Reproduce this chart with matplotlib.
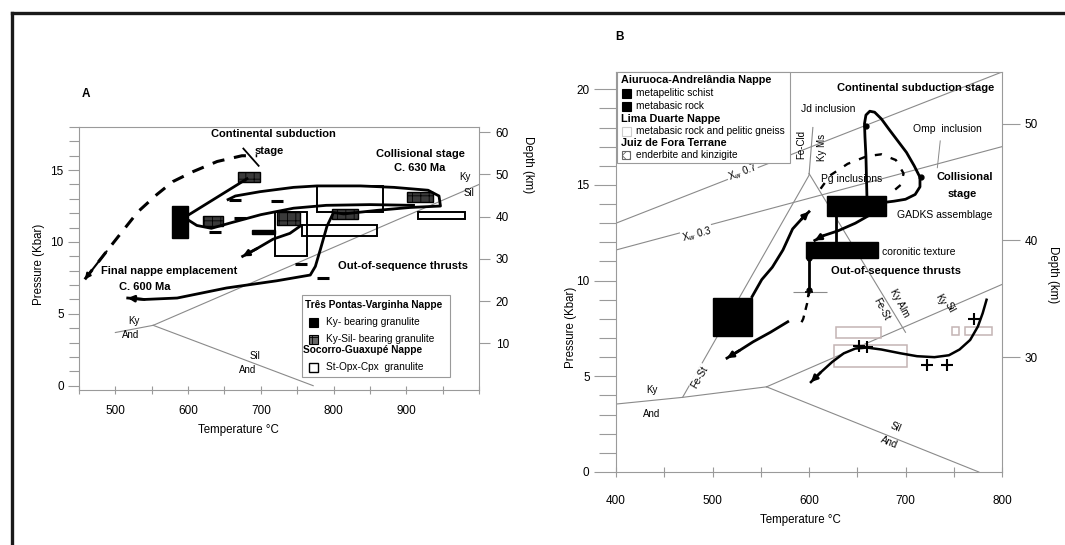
import matplotlib
matplotlib.use("Agg")
import matplotlib.pyplot as plt
from matplotlib.patches import Rectangle
from matplotlib.lines import Line2D

plt.rcParams['font.family'] = ['Liberation Sans', 'DejaVu Sans']
plt.rcParams['hatch.linewidth'] = 0.6

W, H = 1065, 545

# ---------------- Panel A data (T in °C, P in kbar) ----------------
a_ky_and_T, a_ky_and_P = [500, 552], [3.7, 4.2]
a_ky_sil_T, a_ky_sil_P = [552, 1000], [4.2, 14.0]
a_sil_and_T, a_sil_and_P = [552, 772], [4.2, 0.0]

a_subduction_T = [458, 488, 509, 531, 557, 579, 607, 640, 674, 695]
a_subduction_P = [7.4, 9.35, 10.7, 12.1, 13.3, 14.2, 14.9, 15.6, 16.0, 16.0]

a_prograde_T = [598, 681]
a_prograde_P = [11.8, 14.4]

a_loop_T = [655, 665, 699, 745, 777, 837, 883, 930, 945, 947, 905, 860, 814, 800,
            791, 782, 775, 768, 722, 653, 585, 540, 517]
a_loop_P = [12.95, 13.2, 13.5, 13.8, 13.9, 13.9, 13.8, 13.6, 13.2, 12.5, 12.4, 12.2,
            11.95, 12.05, 11.1, 9.5, 8.3, 7.7, 7.3, 6.8, 6.1, 6.0, 6.1]

a_mid_T = [598, 612, 632, 660, 700, 745, 790, 850, 910]
a_mid_P = [11.6, 11.15, 10.95, 11.35, 11.9, 12.35, 12.55, 12.6, 12.55]

a_retro_T = [754, 740, 717, 695, 675]
a_retro_P = [11.1, 10.6, 10.2, 9.55, 9.0]

a_tick_marks_T = [665, 722, 671, 755, 785, 637]
a_tick_marks_P = [12.9, 12.85, 11.7, 8.5, 7.5, 10.7]

# boxes: (Tmin, Tmax, Pmin, Pmax)
a_ky_boxes = [(578, 600, 10.3, 12.5), (688, 720, 10.55, 10.85)]
a_kysil_boxes = [(669, 699, 14.2, 14.9), (620, 648, 11.1, 11.8), (722, 754, 11.2, 12.1),
                 (798, 834, 11.6, 12.3), (901, 937, 12.8, 13.5)]
a_st_boxes = [(777, 868, 12.1, 13.9), (719, 763, 9.0, 12.1), (757, 860, 10.4, 11.2),
              (916, 981, 11.6, 12.1)]

a_depth_km = [10, 20, 30, 40, 50, 60]
a_kbar_per_km = 0.294

# ---------------- Panel B data ----------------
b_ky_and_T, b_ky_and_P = [400, 469, 556], [3.55, 3.9, 4.45]
b_sil_and_T, b_sil_and_P = [556, 776], [4.45, 0.0]
b_ky_sil_T, b_ky_sil_P = [556, 800], [4.45, 9.8]
b_fest_T, b_fest_P = [469, 600, 604], [3.9, 15.5, 18.0]
b_stbrk_T, b_stbrk_P = [600, 700], [15.6, 7.3]
b_xw07_T, b_xw07_P = [400, 800], [13.0, 20.9]
b_xw03_T, b_xw03_P = [400, 800], [11.6, 17.0]

b_prograde_T = [541, 551, 562, 573, 583, 592, 600]
b_prograde_P = [9.16, 10.05, 10.7, 11.6, 12.7, 13.2, 13.6]

b_loop_T = [660, 659.5, 659, 658, 657.5, 659, 663, 668, 675, 683, 692, 701, 709, 715,
            715, 710, 700, 688, 680]
b_loop_P = [14.45, 15.5, 16.5, 17.5, 18.2, 18.65, 18.85, 18.8, 18.45, 17.9, 17.3, 16.7,
            16.0, 15.4, 14.9, 14.5, 14.25, 14.15, 14.1]

b_inner_T = [612, 622, 640, 660, 675, 690, 698, 695, 688]
b_inner_P = [14.8, 15.5, 16.1, 16.5, 16.6, 16.3, 15.6, 15.0, 14.7]

b_link_T, b_link_P = [628, 628], [13.4, 12.0]
b_decomp_T = [662, 648, 630, 615, 606]
b_decomp_P = [13.4, 13.0, 12.6, 12.35, 12.1]
b_exhum_T, b_exhum_P = [600, 600], [11.2, 9.5]
b_exhum_dash_T, b_exhum_dash_P = [600, 598, 594, 590], [9.5, 8.8, 8.0, 7.6]
b_exhum2_T = [578, 560, 542, 528, 515]
b_exhum2_P = [7.85, 7.3, 6.8, 6.35, 5.95]

b_right_T = [784, 780, 775, 767, 756, 745, 730, 712, 695, 675, 660, 648, 636, 624, 612, 602]
b_right_P = [9.0, 8.3, 7.6, 6.9, 6.4, 6.1, 6.0, 6.05, 6.2, 6.4, 6.5, 6.45, 6.2, 5.75, 5.2, 4.7]
b_cross_T = [771, 743, 722, 652, 660]
b_cross_P = [8.0, 5.6, 5.6, 6.6, 6.55]

b_black_boxes = [(500, 541, 7.1, 9.1), (619, 680, 13.4, 14.4), (597, 671, 11.2, 12.0)]
b_pale_boxes = [(628, 675, 7.0, 7.6), (626, 702, 5.5, 6.65), (748, 755, 7.15, 7.6),
                (762, 790, 7.15, 7.6)]

b_depth_km = [30, 40, 50]
b_depth_P = [6.0, 12.1, 18.2]

GRAY = '#8a8a8a'
SPINE = '#9a9a9a'
TICK_FS = 8.5
WHITE_BG = dict(facecolor='white', edgecolor='none', pad=0.6)

fig = plt.figure(figsize=(W / 100, H / 100), dpi=100)


def px_axes(x0, y0, x1, y1):
    return fig.add_axes([x0 / W, 1 - y1 / H, (x1 - x0) / W, (y1 - y0) / H])


def ftext(x, y, s, **kw):
    fig.text(x / W, 1 - y / H, s, **kw)


def add_box(ax, b, **kw):
    T0, T1, P0, P1 = b
    ax.add_patch(Rectangle((T0, P0), T1 - T0, P1 - P0, **kw))


def arrow_end(ax, T, P, lw=1.9):
    ax.annotate('', xy=(T[-1], P[-1]), xytext=(T[-2], P[-2]),
                arrowprops=dict(arrowstyle='-|>', color='k', lw=lw,
                                mutation_scale=9, shrinkA=0, shrinkB=0))


def style_axes(ax):
    for s in ax.spines.values():
        s.set_color(SPINE)
        s.set_linewidth(0.8)


# frame around the figure
fig.add_artist(Line2D([12 / W, 1.0], [1 - 13 / H, 1 - 13 / H], color='#1a1a1a', lw=2.4))
fig.add_artist(Line2D([12 / W, 12 / W], [0, 1 - 13 / H], color='#1a1a1a', lw=2.4))

# ====================== Panel A ======================
axA = px_axes(79, 127, 479, 390)
axA.set_xlim(450, 1000)
axA.set_ylim(-0.3, 18)
style_axes(axA)
axA.set_xticks([500, 600, 700, 800, 900])
axA.set_xticks(range(450, 1001, 50), minor=True)
axA.set_yticks([0, 5, 10, 15])
axA.set_yticks(range(0, 19), minor=True)
axA.tick_params(axis='x', which='both', direction='inout', length=6, color=SPINE,
                width=0.8, labelsize=TICK_FS, pad=8)
axA.tick_params(axis='y', which='major', direction='out', length=8, color=SPINE,
                width=0.8, labelsize=TICK_FS, pad=3)
axA.tick_params(axis='y', which='minor', direction='out', length=7, color=SPINE, width=0.8)

axA.plot(a_ky_and_T, a_ky_and_P, color=GRAY, lw=0.8)
axA.plot(a_ky_sil_T, a_ky_sil_P, color=GRAY, lw=0.8)
axA.plot(a_sil_and_T, a_sil_and_P, color=GRAY, lw=0.8)

for b in a_st_boxes:
    add_box(axA, b, facecolor='none', edgecolor='k', lw=1.4, zorder=3)
for b in a_ky_boxes:
    add_box(axA, b, facecolor='k', edgecolor='k', lw=1.0, zorder=4)
for b in a_kysil_boxes:
    add_box(axA, b, facecolor='#3a3a3a', edgecolor='k', hatch='++', lw=1.0, zorder=4)

axA.plot(a_subduction_T, a_subduction_P, color='k', lw=2.2, dashes=(4, 3.2), zorder=5)
axA.annotate('', xy=(a_subduction_T[0], a_subduction_P[0]),
             xytext=(a_subduction_T[1], a_subduction_P[1]),
             arrowprops=dict(arrowstyle='-|>', color='k', lw=1.5, mutation_scale=8,
                             shrinkA=0, shrinkB=0))

axA.plot(a_prograde_T, a_prograde_P, color='k', lw=2.0, zorder=5)
axA.plot(a_loop_T, a_loop_P, color='k', lw=2.0, zorder=5)
arrow_end(axA, a_loop_T, a_loop_P)
axA.plot(a_mid_T, a_mid_P, color='k', lw=2.0, zorder=5)
axA.plot(a_retro_T, a_retro_P, color='k', lw=2.0, zorder=5)
arrow_end(axA, a_retro_T, a_retro_P)
axA.plot(a_tick_marks_T, a_tick_marks_P, ls='none', marker='_', ms=8, mew=2.2,
         color='k', zorder=6)
axA.plot([697, 676], [15.3, 16.5], color='k', lw=1.3, zorder=5)

bold = dict(fontsize=8, fontweight='bold', ha='center', va='center')
axA.text(717, 17.5, 'Continental subduction', **bold)
axA.text(712, 16.35, 'stage', **bold)
axA.text(919, 16.1, 'Collisional stage', **bold)
axA.text(919, 15.15, 'C. 630 Ma', **bold)
axA.text(574, 8.0, 'Final nappe emplacement', **bold)
axA.text(541, 6.85, 'C. 600 Ma', **bold)
axA.text(895, 8.3, 'Out-of-sequence thrusts', **bold)
small = dict(fontsize=7, ha='center', va='center')
axA.text(981, 14.5, 'Ky', **small)
axA.text(986, 13.4, 'Sil', **small)
axA.text(526, 4.5, 'Ky', **small)
axA.text(521, 3.5, 'And', **small)
axA.text(692, 2.05, 'Sil', **small)
axA.text(682, 1.1, 'And', **small)

# depth scale (right)
axA2 = axA.twinx()
axA2.set_ylim(axA.get_ylim())
axA2.set_yticks([d * a_kbar_per_km for d in a_depth_km])
axA2.set_yticklabels([str(d) for d in a_depth_km])
axA2.tick_params(axis='y', direction='out', length=8, color=SPINE, width=0.8,
                 labelsize=TICK_FS, pad=4)
for s in axA2.spines.values():
    s.set_visible(False)

# legend A
fig.add_artist(Rectangle((302 / W, 1 - 377 / H), 148 / W, 82 / H, facecolor='white',
                         edgecolor=SPINE, lw=0.8, zorder=7))
leg_bold = dict(fontsize=7.3, fontweight='bold', ha='left', va='center', zorder=8)
leg_txt = dict(fontsize=7.3, ha='left', va='center', zorder=8)
ftext(305, 305, 'Três Pontas-Varginha Nappe', **leg_bold)
fig.add_artist(Rectangle((309 / W, 1 - 327 / H), 9 / W, 9 / H, facecolor='k',
                         edgecolor='k', lw=0.8, zorder=8))
ftext(326, 322, 'Ky- bearing granulite', **leg_txt)
fig.add_artist(Rectangle((309 / W, 1 - 344 / H), 9 / W, 9 / H, facecolor='#666',
                         edgecolor='k', hatch='++', lw=0.8, zorder=8))
ftext(326, 339, 'Ky-Sil- bearing granulite', **leg_txt)
ftext(303, 350, 'Socorro-Guaxupé Nappe', **leg_bold)
fig.add_artist(Rectangle((309 / W, 1 - 372 / H), 9 / W, 9 / H, facecolor='white',
                         edgecolor='k', lw=1.0, zorder=8))
ftext(326, 367, 'St-Opx-Cpx  granulite', **leg_txt)

ftext(86, 94, 'A', fontsize=8.5, fontweight='bold', ha='center', va='center')
ftext(238, 430, 'Temperature °C', fontsize=8.3, ha='center', va='center')
ftext(39, 264, 'Pressure (Kbar)', fontsize=8.3, rotation=90, ha='center', va='center')
ftext(528, 165, 'Depth (km)', fontsize=8.3, rotation=270, ha='center', va='center')

# ====================== Panel B ======================
axB = px_axes(616, 72, 1002, 472)
axB.set_xlim(400, 800)
axB.set_ylim(0, 20.9)
style_axes(axB)
axB.set_xticks([400, 500, 600, 700, 800])
axB.set_xticks(range(400, 801, 50), minor=True)
axB.set_yticks([0, 5, 10, 15, 20])
axB.set_yticks(range(0, 21), minor=True)
axB.tick_params(axis='x', which='both', direction='inout', length=7, color=SPINE,
                width=0.8, labelsize=TICK_FS, pad=13)
axB.tick_params(axis='y', which='major', direction='out', length=16, color=SPINE,
                width=0.8, labelsize=TICK_FS, pad=3)
axB.tick_params(axis='y', which='minor', direction='out', length=12, color=SPINE, width=0.8)

for T, P in [(b_ky_and_T, b_ky_and_P), (b_sil_and_T, b_sil_and_P), (b_ky_sil_T, b_ky_sil_P),
             (b_fest_T, b_fest_P), (b_stbrk_T, b_stbrk_P), (b_xw07_T, b_xw07_P),
             (b_xw03_T, b_xw03_P)]:
    axB.plot(T, P, color=GRAY, lw=0.8, zorder=1)

for b in b_pale_boxes:
    add_box(axB, b, facecolor='none', edgecolor='#c4b4b4', lw=1.1, zorder=2)
for b in b_black_boxes:
    add_box(axB, b, facecolor='k', edgecolor='k', lw=1.0, zorder=4)

axB.plot(b_prograde_T, b_prograde_P, color='k', lw=2.0, zorder=5)
arrow_end(axB, b_prograde_T, b_prograde_P)
axB.plot(b_loop_T, b_loop_P, color='k', lw=2.0, zorder=5)
axB.plot([716, 659], [15.4, 18.1], ls='none', marker='o', ms=3.5, color='k', zorder=6)
axB.plot(b_inner_T, b_inner_P, color='k', lw=1.7, dashes=(3, 4), zorder=5)
axB.plot(b_link_T, b_link_P, color='k', lw=2.0, zorder=5)
axB.plot(b_decomp_T, b_decomp_P, color='k', lw=2.0, zorder=5)
arrow_end(axB, b_decomp_T, b_decomp_P)
axB.plot(b_exhum_T, b_exhum_P, color='k', lw=2.0, marker='o', ms=3.5, zorder=5)
axB.plot(b_exhum_dash_T, b_exhum_dash_P, color='k', lw=1.7, dashes=(3, 2.5), zorder=5)
axB.errorbar([600], [9.4], xerr=[[17], [19]], fmt='+', color='k', ms=6, mew=1.2,
             elinewidth=0.8, ecolor=GRAY, zorder=6)
axB.plot(b_exhum2_T, b_exhum2_P, color='k', lw=2.0, zorder=5)
arrow_end(axB, b_exhum2_T, b_exhum2_P)
axB.plot(b_right_T, b_right_P, color='k', lw=1.8, zorder=5)
arrow_end(axB, b_right_T, b_right_P)
axB.plot(b_cross_T, b_cross_P, ls='none', marker='+', ms=8, mew=1.5, color='k', zorder=6)

bb = dict(fontsize=8, fontweight='bold', ha='center', va='center', zorder=7)
bn = dict(fontsize=7.5, ha='center', va='center', zorder=7)
axB.text(711, 20.05, 'Continental subduction stage', **bb)
axB.text(620, 18.95, 'Jd inclusion', **bn)
axB.text(743, 17.9, 'Omp  inclusion', **bn)
axB.plot([736, 733], [17.3, 15.9], color=GRAY, lw=0.7)
axB.text(644, 15.3, 'Pg inclusions', **bn)
axB.text(761, 15.4, 'Collisional', **bb)
axB.text(759, 14.5, 'stage', **bb)
axB.text(741, 13.45, 'GADKS assemblage', **bn)
axB.text(714, 11.5, 'coronitic texture', **bn)
axB.text(690, 10.5, 'Out-of-sequence thrusts', **bb)

sm = dict(fontsize=7, ha='center', va='center', zorder=7)
axB.text(437, 4.3, 'Ky', **sm)
axB.text(437, 3.05, 'And', **sm)
axB.text(690, 2.35, 'Sil', rotation=-22, **sm)
axB.text(683, 1.55, 'And', rotation=-22, **sm)
axB.text(487, 4.97, 'Fe-St', rotation=60, bbox=WHITE_BG, **sm)
axB.text(531, 15.65, 'X$_w$ 0.7', rotation=21, bbox=WHITE_BG, **sm)
axB.text(484, 12.4, 'X$_w$ 0.3', rotation=15, bbox=WHITE_BG, **sm)
axB.text(592, 17.1, 'Fe-Cld', rotation=90, **sm)
axB.text(613, 16.95, 'Ky Ms', rotation=90, **sm)
axB.text(675, 8.5, 'Fe-St', rotation=-62, **sm)
axB.text(694, 8.85, 'Ky Alm', rotation=-62, **sm)
axB.text(736, 9.0, 'Ky', rotation=-62, **sm)
axB.text(746, 8.6, 'Sil', rotation=-62, **sm)

# depth scale (right)
axB2 = axB.twinx()
axB2.set_ylim(axB.get_ylim())
axB2.set_yticks(b_depth_P)
axB2.set_yticklabels([str(d) for d in b_depth_km])
axB2.tick_params(axis='y', direction='out', length=13, color=SPINE, width=0.8,
                 labelsize=TICK_FS, pad=3)
for s in axB2.spines.values():
    s.set_visible(False)

# legend B
fig.add_artist(Rectangle((617 / W, 1 - 163 / H), 173 / W, 91 / H, facecolor='white',
                         edgecolor=SPINE, lw=0.8, zorder=7))
lb = dict(fontsize=7.8, fontweight='bold', ha='left', va='center', zorder=8)
lt = dict(fontsize=7.3, ha='left', va='center', zorder=8)
ftext(621, 80, 'Aiuruoca-Andrelândia Nappe', **lb)
fig.add_artist(Rectangle((622 / W, 1 - 98 / H), 9 / W, 9 / H, facecolor='k', edgecolor='k',
                         lw=0.8, zorder=8))
ftext(636, 93, 'metapelitic schist', **lt)
fig.add_artist(Rectangle((622 / W, 1 - 111 / H), 9 / W, 9 / H, facecolor='k', edgecolor='k',
                         lw=0.8, zorder=8))
ftext(636, 106, 'metabasic rock', **lt)
ftext(621, 119, 'Lima Duarte Nappe', **lb)
fig.add_artist(Rectangle((622 / W, 1 - 136 / H), 9 / W, 9 / H, facecolor='white',
                         edgecolor='#ccc', lw=0.8, zorder=8))
ftext(636, 131, 'metabasic rock and pelitic gneiss', **lt)
ftext(621, 143, 'Juiz de Fora Terrane', **lb)
fig.add_artist(Rectangle((622 / W, 1 - 159 / H), 8 / W, 8 / H, facecolor='white',
                         edgecolor='#666', hatch='xxx', lw=0.8, zorder=8))
ftext(636, 155, 'enderbite and kinzigite', **lt)

ftext(619, 37, 'B', fontsize=8.5, fontweight='bold', ha='center', va='center')
ftext(800, 520, 'Temperature °C', fontsize=8.3, ha='center', va='center')
ftext(571, 327, 'Pressure (Kbar)', fontsize=8.3, rotation=90, ha='center', va='center')
ftext(1053, 275, 'Depth (km)', fontsize=8.3, rotation=270, ha='center', va='center')

fig.savefig('out.png', dpi=100)
